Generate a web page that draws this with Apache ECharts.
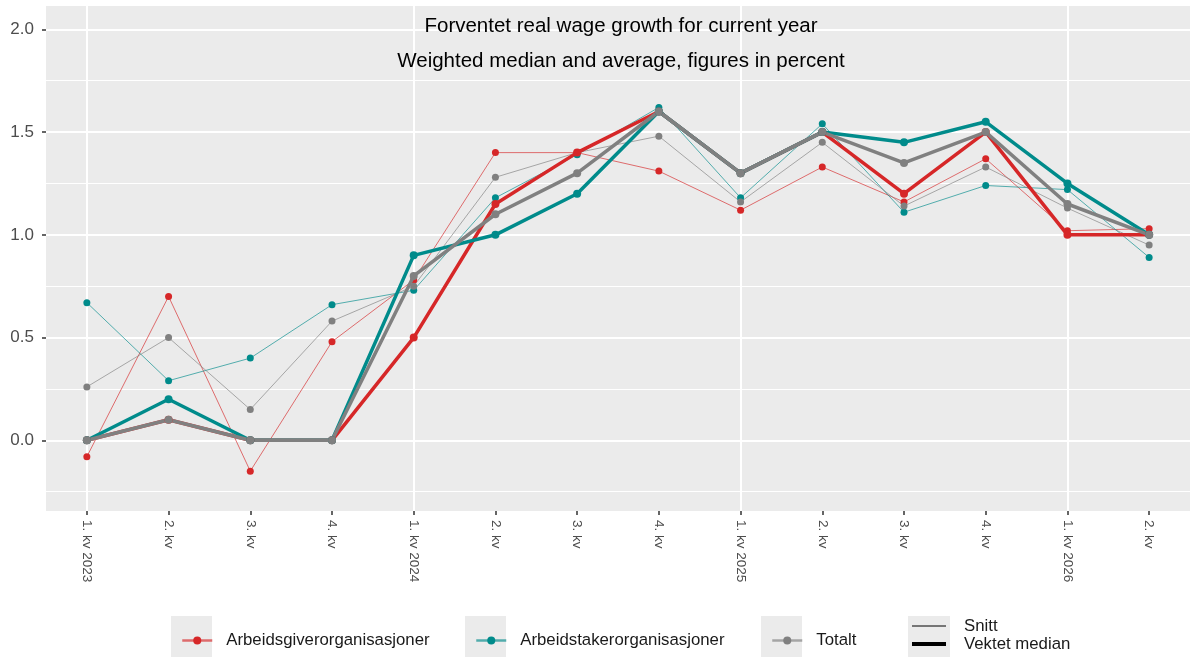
<!DOCTYPE html>
<html>
<head>
<meta charset="utf-8">
<script src="https://cdn.jsdelivr.net/npm/echarts@6/dist/echarts.min.js"></script>
<style>
  html, body { margin: 0; padding: 0; background: #fff; }
  #chart { width: 1192px; height: 657px; }
</style>
</head>
<body>
<div id="chart"></div>
<script>
const categories = ['1. kv 2023', '2. kv', '3. kv', '4. kv', '1. kv 2024', '2. kv', '3. kv', '4. kv',
  '1. kv 2025', '2. kv', '3. kv', '4. kv', '1. kv 2026', '2. kv']
const yearStarts = ['1. kv 2023', '1. kv 2024', '1. kv 2025', '1. kv 2026']

// Snitt (average), thin lines
const avgArbeidsgiver = [-0.08, 0.70, -0.15, 0.48, 0.78, 1.40, 1.40, 1.31, 1.12, 1.33, 1.16, 1.37, 1.02, 1.03]
const avgArbeidstaker = [0.67, 0.29, 0.40, 0.66, 0.73, 1.18, 1.39, 1.62, 1.18, 1.54, 1.11, 1.24, 1.22, 0.89]
const avgTotalt = [0.26, 0.50, 0.15, 0.58, 0.75, 1.28, 1.40, 1.48, 1.16, 1.45, 1.14, 1.33, 1.13, 0.95]

// Vektet median, thick lines
const medArbeidsgiver = [0, 0.1, 0, 0, 0.5, 1.15, 1.4, 1.6, 1.3, 1.5, 1.2, 1.5, 1.0, 1.0]
const medArbeidstaker = [0, 0.2, 0, 0, 0.9, 1.0, 1.2, 1.6, 1.3, 1.5, 1.45, 1.55, 1.25, 1.0]
const medTotalt = [0, 0.1, 0, 0, 0.8, 1.1, 1.3, 1.6, 1.3, 1.5, 1.35, 1.5, 1.15, 1.0]

const majorTicks = [0, 0.5, 1.0, 1.5, 2.0]
const minorTicks = [-0.25, 0.25, 0.75, 1.25, 1.75]

const RED = '#d62728'
const TEAL = '#008b8b'
const GREY = '#808080'
const FONT = 'Liberation Sans, Arial, sans-serif'

const chart = echarts.init(document.getElementById('chart'))

function thin(name, data, color) {
  return {
    name, type: 'line', data, z: 3,
    symbol: 'circle', symbolSize: 7,
    itemStyle: { color },
    lineStyle: { color, width: 1, opacity: 0.65 },
    emphasis: { disabled: true }
  }
}
function thick(name, data, color) {
  return {
    name, type: 'line', data, z: 4,
    symbol: 'circle', symbolSize: 8,
    itemStyle: { color },
    lineStyle: { color, width: 3.5 },
    emphasis: { disabled: true }
  }
}

function legendItem(name, left) {
  return {
    data: [name], left, top: 627,
    itemWidth: 30, itemHeight: 10,
    lineStyle: { width: 2.5 },
    textStyle: { color: '#1a1a1a', fontSize: 16.8, fontFamily: FONT, padding: [0, 0, 0, 9] },
    selectedMode: false
  }
}

chart.setOption({
  backgroundColor: '#fff',
  animation: false,
  textStyle: { fontFamily: FONT },
  title: [
    { text: 'Forventet real wage growth for current year', left: 616, top: 11, textAlign: 'center',
      textStyle: { fontSize: 20.5, fontWeight: 'normal', color: '#000', fontFamily: FONT } },
    { text: 'Weighted median and average, figures in percent', left: 616, top: 46, textAlign: 'center',
      textStyle: { fontSize: 20.5, fontWeight: 'normal', color: '#000', fontFamily: FONT } }
  ],
  grid: { left: 46, right: 2, top: 6, bottom: 146, show: true, backgroundColor: '#ebebeb', borderWidth: 0 },
  xAxis: {
    type: 'category', data: categories, boundaryGap: true,
    axisLine: { show: false, onZero: false },
    axisTick: { show: true, alignWithLabel: true, length: 4, lineStyle: { color: '#333', width: 1.5 } },
    axisLabel: { rotate: -90, color: '#4d4d4d', fontSize: 13.5, margin: 9, interval: 0, fontFamily: FONT },
    splitLine: { show: false }
  },
  yAxis: {
    type: 'value', min: -0.344, max: 2.1135,
    axisLine: { show: false },
    axisTick: { show: true, length: 4, customValues: majorTicks, lineStyle: { color: '#333', width: 1.5 } },
    axisLabel: { customValues: majorTicks, color: '#4d4d4d', fontSize: 17, margin: 12, fontFamily: FONT,
      formatter: v => v.toFixed(1) },
    splitLine: { show: false }
  },
  legend: [
    legendItem('Arbeidsgiverorganisasjoner', 176),
    legendItem('Arbeidstakerorganisasjoner', 470),
    legendItem('Totalt', 766)
  ],
  graphic: [
    { type: 'rect', shape: { x: 171, y: 616, width: 41, height: 42 }, style: { fill: '#ebebeb' }, z: -1 },
    { type: 'rect', shape: { x: 465, y: 616, width: 41, height: 42 }, style: { fill: '#ebebeb' }, z: -1 },
    { type: 'rect', shape: { x: 761, y: 616, width: 41, height: 42 }, style: { fill: '#ebebeb' }, z: -1 },
    { type: 'rect', shape: { x: 908, y: 616, width: 42, height: 42 }, style: { fill: '#ebebeb' }, z: -1 },
    { type: 'line', shape: { x1: 912, y1: 626, x2: 946, y2: 626 }, style: { stroke: '#000', lineWidth: 1 } },
    { type: 'line', shape: { x1: 912, y1: 644, x2: 946, y2: 644 }, style: { stroke: '#000', lineWidth: 4 } },
    { type: 'text', left: 964, top: 618, style: { text: 'Snitt', fontSize: 16.8, fill: '#1a1a1a', fontFamily: FONT } },
    { type: 'text', left: 964, top: 636, style: { text: 'Vektet median', fontSize: 16.8, fill: '#1a1a1a', fontFamily: FONT } }
  ],
  series: [
    {
      type: 'line', data: [], z: 1, silent: true,
      markLine: {
        z: 1, silent: true, symbol: 'none', label: { show: false }, animation: false,
        data: [
          ...minorTicks.map(v => ({ yAxis: v, lineStyle: { color: '#fff', width: 1, type: 'solid' } })),
          ...majorTicks.map(v => ({ yAxis: v, lineStyle: { color: '#fff', width: 2, type: 'solid' } })),
          ...yearStarts.map(c => ({ xAxis: c, lineStyle: { color: '#fff', width: 2, type: 'solid' } }))
        ]
      }
    },
    thin('Arbeidsgiverorganisasjoner', avgArbeidsgiver, RED),
    thin('Arbeidstakerorganisasjoner', avgArbeidstaker, TEAL),
    thin('Totalt', avgTotalt, GREY),
    thick('Arbeidsgiverorganisasjoner', medArbeidsgiver, RED),
    thick('Arbeidstakerorganisasjoner', medArbeidstaker, TEAL),
    thick('Totalt', medTotalt, GREY)
  ]
})
</script>
</body>
</html>
